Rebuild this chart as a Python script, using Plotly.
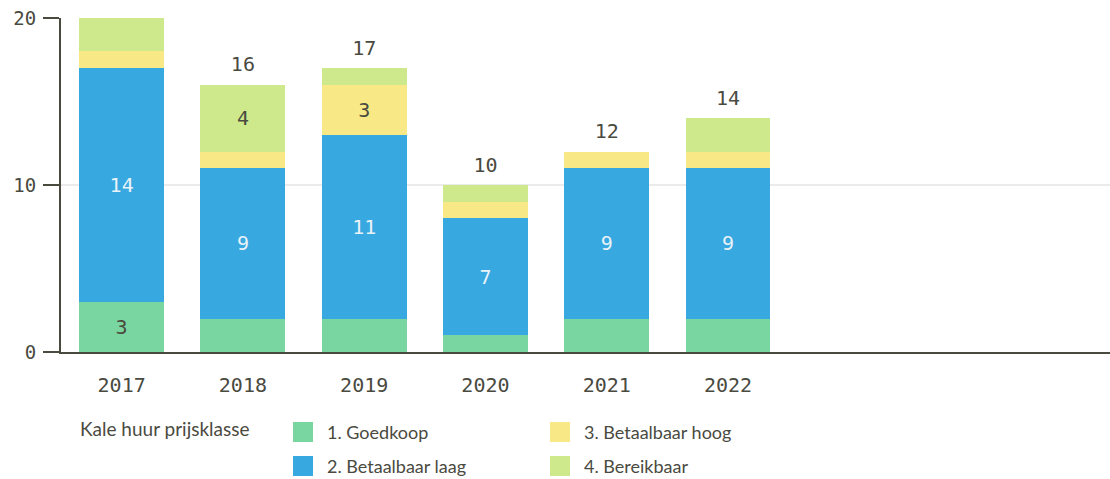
import plotly.graph_objects as go

years = ["2017", "2018", "2019", "2020", "2021", "2022"]
series_names = ["1. Goedkoop", "2. Betaalbaar laag", "3. Betaalbaar hoog", "4. Bereikbaar"]
goedkoop = [3, 2, 2, 1, 2, 2]
betaalbaar_laag = [14, 9, 11, 7, 9, 9]
betaalbaar_hoog = [1, 1, 3, 1, 1, 1]
bereikbaar = [2, 4, 1, 1, 0, 2]
series_values = [goedkoop, betaalbaar_laag, betaalbaar_hoog, bereikbaar]
y_ticks = [0, 10, 20]
colors = ["#79d6a0", "#37a8e0", "#f8e986", "#cde98c"]
label_colors = ["#4a4a3f", "#e9f2f8", "#4a4a3f", "#4a4a3f"]
legend_title = "Kale huur prijsklasse"

DARK = "#4a4a3f"
MONO = "DejaVu Sans Mono"
Y_MAX = max(y_ticks)

fig = go.Figure()
for name, vals, col, lc in zip(series_names, series_values, colors, label_colors):
    fig.add_trace(go.Bar(
        x=years, y=vals, name=name,
        marker=dict(color=col, line=dict(width=0)),
        text=[str(v) if v >= 3 else "" for v in vals],
        textposition="inside", insidetextanchor="middle",
        textangle=0,
        textfont=dict(family=MONO, size=20, color=lc),
        showlegend=False, hoverinfo="skip",
    ))

totals = [sum(t) for t in zip(*series_values)]
# totals above bars (the one reaching the top of the axis falls outside the page)
fig.add_trace(go.Scatter(
    x=years, y=totals, mode="markers+text",
    text=[str(t) if t < Y_MAX else "" for t in totals], textposition="top center",
    marker=dict(size=12, opacity=0),
    textfont=dict(family=MONO, size=20, color=DARK),
    cliponaxis=True, showlegend=False, hoverinfo="skip",
))

# manual legend (pixel -> paper conversions)
L, R, T, B = 61, 1110, 18, 352
W, H = R - L, B - T
def px(x):
    return (x - L) / W
def py(y):
    return (B - y) / H

fig.add_annotation(xref="paper", yref="paper", x=px(78), y=py(428), text=legend_title,
                   showarrow=False, xanchor="left", yanchor="middle",
                   font=dict(family="Lato", size=19, color=DARK))
positions = [(293, 432), (293, 466), (550, 432), (550, 466)]
for name, col, (lx, ly) in zip(series_names, colors, positions):
    fig.add_shape(type="rect", xref="paper", yref="paper",
                  x0=px(lx), x1=px(lx + 20), y0=py(ly - 10), y1=py(ly + 10),
                  fillcolor=col, line=dict(width=0))
    fig.add_annotation(xref="paper", yref="paper", x=px(lx + 32), y=py(ly), text=name,
                       showarrow=False, xanchor="left", yanchor="middle",
                       font=dict(family="Lato", size=18, color=DARK))

fig.update_layout(
    barmode="stack", bargap=0.3,
    width=1110, height=479,
    margin=dict(l=L, r=0, t=T, b=479 - B),
    plot_bgcolor="white", paper_bgcolor="white",
    xaxis=dict(type="category", range=[-0.5, 8.15], showline=True, linecolor=DARK, linewidth=2,
               ticks="", tickfont=dict(family=MONO, size=20, color=DARK),
               showgrid=False, fixedrange=True, ticklabelstandoff=14),
    yaxis=dict(range=[0, Y_MAX], tickvals=y_ticks, showline=True, linecolor=DARK,
               linewidth=2, ticks="outside", ticklen=16, tickwidth=2, tickcolor=DARK,
               tickfont=dict(family=MONO, size=19, color=DARK),
               showgrid=True, gridcolor="#ebebeb", gridwidth=2, zeroline=False,
               ticklabelstandoff=3),
    showlegend=False,
)

fig.write_html("out.html", config={"displayModeBar": False},
               post_script="document.body.style.margin='0';document.body.style.overflow='hidden';")
